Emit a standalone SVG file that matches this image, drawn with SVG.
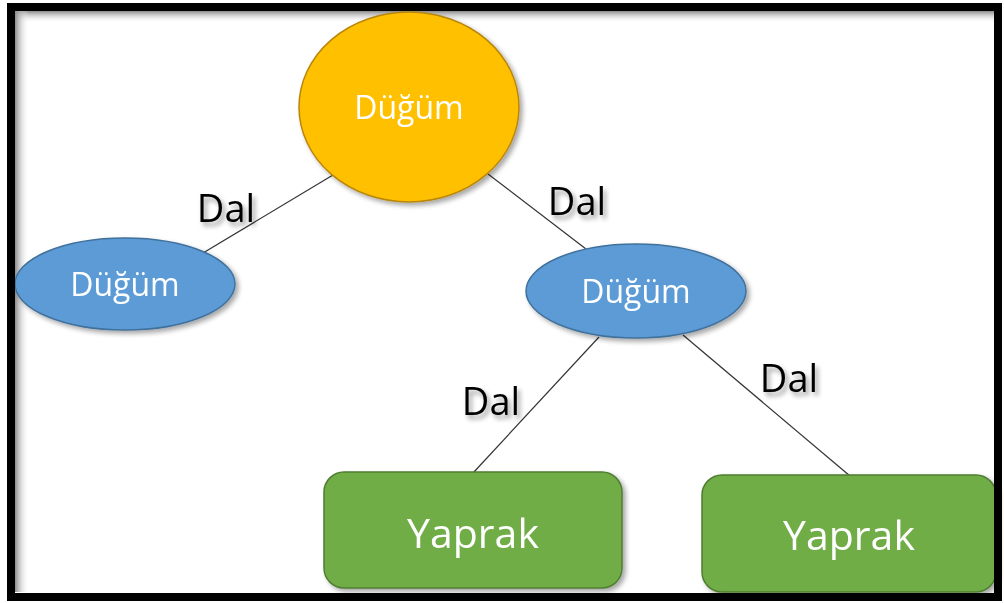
<svg xmlns="http://www.w3.org/2000/svg" width="1004" height="603" viewBox="0 0 1004 603">
  <defs>
    <filter id="shapeShadow" x="-10%" y="-10%" width="125%" height="130%">
      <feGaussianBlur in="SourceAlpha" stdDeviation="2.5"/>
      <feOffset dx="3" dy="3" result="b"/>
      <feComponentTransfer><feFuncA type="linear" slope="0.35"/></feComponentTransfer>
      <feMerge><feMergeNode/><feMergeNode in="SourceGraphic"/></feMerge>
    </filter>
    <filter id="textShadow" x="-20%" y="-20%" width="150%" height="160%">
      <feGaussianBlur in="SourceAlpha" stdDeviation="2.5"/>
      <feOffset dx="3" dy="4" result="b"/>
      <feComponentTransfer><feFuncA type="linear" slope="0.4"/></feComponentTransfer>
      <feMerge><feMergeNode/><feMergeNode in="SourceGraphic"/></feMerge>
    </filter>
    <linearGradient id="topShade" x1="0" y1="0" x2="0" y2="1">
      <stop offset="0" stop-color="#8a8a8a"/>
      <stop offset="1" stop-color="#ffffff" stop-opacity="0"/>
    </linearGradient>
    <linearGradient id="leftShade" x1="0" y1="0" x2="1" y2="0">
      <stop offset="0" stop-color="#8a8a8a"/>
      <stop offset="1" stop-color="#ffffff" stop-opacity="0"/>
    </linearGradient>
  </defs>
  <style>
    .root { fill: #FFC000; stroke: #B8860B; stroke-width: 1.5; }
    .inner { fill: #5B9BD5; stroke: #41719C; stroke-width: 1.5; }
    .leaf { fill: #70AD47; stroke: #507E32; stroke-width: 1.5; }
    .nodeText { font-family: "Open Sans", "Liberation Sans", sans-serif; fill: #ffffff; text-anchor: middle; }
    .edge { stroke: #333333; stroke-width: 1.2; fill: none; }
    .dal { font-family: "Open Sans", "Liberation Sans", sans-serif; font-size: 38px; fill: #000000; text-anchor: middle; }
  </style>

  <rect x="0" y="0" width="1004" height="603" fill="#ffffff"/>

  <!-- inner shading along the frame's top and left edges -->
  <rect x="15" y="11" width="982" height="12" fill="url(#topShade)"/>
  <rect x="15" y="11" width="14" height="581" fill="url(#leftShade)"/>

  <g id="connectors">
    <line class="edge" x1="333" y1="175" x2="203" y2="253"/>
    <line class="edge" x1="488" y1="174" x2="586" y2="249"/>
    <line class="edge" x1="599" y1="337" x2="473" y2="473"/>
    <line class="edge" x1="683" y1="335" x2="850" y2="476"/>
  </g>

  <g id="edge-labels" filter="url(#textShadow)">
    <text class="dal" x="226" y="222">Dal</text>
    <text class="dal" x="577" y="215">Dal</text>
    <text class="dal" x="491" y="415">Dal</text>
    <text class="dal" x="789" y="392">Dal</text>
  </g>

  <g id="root-node" filter="url(#shapeShadow)">
    <ellipse class="root" cx="409" cy="107" rx="110" ry="95"/>
    <text class="nodeText" x="409" y="119" font-size="32">Düğüm</text>
  </g>

  <g id="left-node" filter="url(#shapeShadow)">
    <ellipse class="inner" cx="125" cy="284" rx="110" ry="46"/>
    <text class="nodeText" x="125" y="296" font-size="32">Düğüm</text>
  </g>

  <g id="right-node" filter="url(#shapeShadow)">
    <ellipse class="inner" cx="636" cy="291" rx="110" ry="47"/>
    <text class="nodeText" x="636" y="303" font-size="32">Düğüm</text>
  </g>

  <g id="leaf-left" filter="url(#shapeShadow)">
    <rect class="leaf" x="324" y="472" width="298" height="116" rx="20" ry="20"/>
    <text class="nodeText" x="473" y="548" font-size="41">Yaprak</text>
  </g>

  <g id="leaf-right" filter="url(#shapeShadow)">
    <rect class="leaf" x="702" y="475" width="294" height="117" rx="20" ry="20"/>
    <text class="nodeText" x="849" y="550" font-size="41">Yaprak</text>
  </g>

  <!-- outer frame -->
  <rect x="11" y="7" width="987" height="590" fill="none" stroke="#000000" stroke-width="8"/>
</svg>
